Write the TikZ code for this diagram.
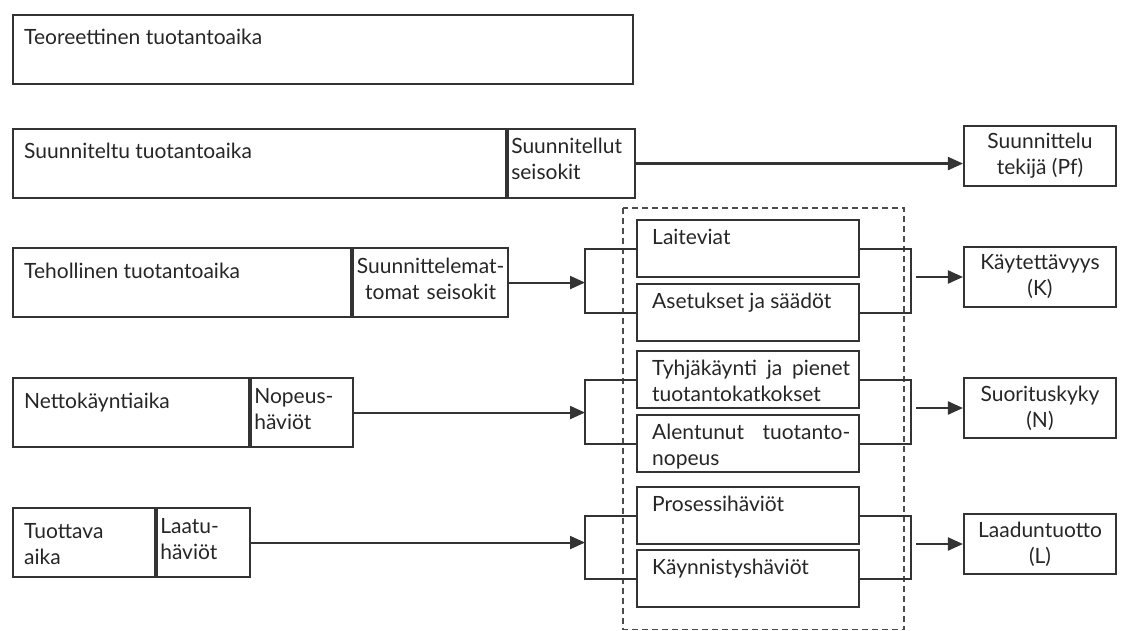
\documentclass[tikz,border=0pt]{standalone}
\usepackage{fontspec}
\setmainfont{Lato}
\usetikzlibrary{arrows.meta,positioning,calc}

\newcommand{\fs}{\fontsize{21}{26}\selectfont}
\newcommand{\jfill}{\hskip 0pt plus 1filll\relax}

\tikzset{
  ink/.style={draw=black!80, line width=2.1pt},
  cell/.style={ink, anchor=north west, inner sep=0pt, minimum height=69pt},
  sub/.style={ink, anchor=north west, inner sep=0pt, minimum width=222pt, minimum height=57pt},
  res/.style={ink, inner sep=0pt, minimum width=152pt, minimum height=60pt,
    align=center, font=\fs, text=black!85},
  lbl/.style={anchor=base west, inner sep=0pt, align=left, font=\fs, text=black!85},
  link/.style={ink},
  arr/.style={ink, -{Triangle[length=15pt,width=13pt]}},
  group/.style={draw=black!70, line width=1.2pt, dash pattern=on 6pt off 4pt},
}

\begin{document}
\begin{tikzpicture}[x=1pt,y=1pt]
  \useasboundingbox (0,0) rectangle (1121,-631);

  % time bars
  \node[cell, minimum width=620pt] (teo) at (12,-14) {};
  \node[lbl] (teoT) at ([shift={(12,-31)}]teo.north west) {Teoreettinen tuotantoaika};

  \node[cell, minimum width=493pt] (suu) at (12,-128) {};
  \node[cell, minimum width=127pt] (suuL) at (suu.north east) {};
  \node[lbl] (suuT) at ([shift={(12,-31)}]suu.north west) {Suunniteltu tuotantoaika};
  \node[lbl, text width=120pt] (suuLT) at ([shift={(4,-26)}]suuL.north west) {Suunnitellut\\seisokit};

  \node[cell, minimum width=338pt] (teh) at (12,-247) {};
  \node[cell, minimum width=155pt] (tehL) at (teh.north east) {};
  \node[lbl] (tehT) at ([shift={(12,-31)}]teh.north west) {Tehollinen tuotantoaika};
  \node[lbl, anchor=base, align=center, text width=152pt] (tehLT) at ([yshift=-26pt]tehL.north) {Suunnittelemat-\\tomat seisokit};

  \node[cell, minimum width=236pt] (net) at (12,-377) {};
  \node[cell, minimum width=102pt] (netL) at (net.north east) {};
  \node[lbl] (netT) at ([shift={(12,-31)}]net.north west) {Nettokäyntiaika};
  \node[lbl, text width=96pt] (netLT) at ([shift={(4,-26)}]netL.north west) {Nopeus-\\häviöt};

  \node[cell, minimum width=142pt] (tuo) at (12,-507) {};
  \node[cell, minimum width=93pt] (tuoL) at (tuo.north east) {};
  \node[lbl, text width=130pt] (tuoT) at ([shift={(12,-31)}]tuo.north west) {Tuottava\\aika};
  \node[lbl, text width=88pt] (tuoLT) at ([shift={(4,-26)}]tuoL.north west) {Laatu-\\häviöt};

  % loss causes
  \draw[group] (623,-208) rectangle (904,-629.5);

  \node[sub] (lai) at (636,-219) {};
  \node[sub] (ase) at (636,-283) {};
  \node[sub] (tyh) at (636,-350) {};
  \node[sub] (ale) at (636,-414) {};
  \node[sub] (pro) at (636,-486) {};
  \node[sub] (kaynn) at (636,-549) {};
  \node[lbl] (laiT) at ([shift={(16,-25)}]lai.north west) {Laiteviat};
  \node[lbl] (aseT) at ([shift={(16,-25)}]ase.north west) {Asetukset ja säädöt};
  \node[lbl, text width=198pt] (tyhT) at ([shift={(16,-25)}]tyh.north west) {Tyhjäkäynti\jfill{} ja\jfill{} pienet\\tuotantokatkokset};
  \node[lbl, text width=198pt] (aleT) at ([shift={(16,-25)}]ale.north west) {Alentunut\jfill{} tuotanto-\\nopeus};
  \node[lbl] (proT) at ([shift={(16,-25)}]pro.north west) {Prosessihäviöt};
  \node[lbl] (kaynnT) at ([shift={(16,-25)}]kaynn.north west) {Käynnistyshäviöt};

  % indicators
  \node[res] (pf) at (1040,-156) {Suunnittelu\\tekijä (Pf)};
  \node[res] (kay) at (1040,-277) {Käytettävyys\\(K)};
  \node[res] (suo) at (1040,-408) {Suorituskyky\\(N)};
  \node[res] (laa) at (1040,-544) {Laaduntuotto\\(L)};

  % brackets
  \coordinate (jL3) at (585,-281);
  \coordinate (jL4) at (585,-410);
  \coordinate (jL5) at (585,-542);
  \coordinate (jR3) at (911,-277);
  \coordinate (jR4) at (911,-408);
  \coordinate (jR5) at (911,-544);
  \draw[link] (lai.west) -| (jL3) |- (ase.west);
  \draw[link] (tyh.west) -| (jL4) |- (ale.west);
  \draw[link] (pro.west) -| (jL5) |- (kaynn.west);
  \draw[link] (lai.east) -| (jR3) |- (ase.east);
  \draw[link] (tyh.east) -| (jR4) |- (ale.east);
  \draw[link] (pro.east) -| (jR5) |- (kaynn.east);

  % arrows
  \draw[arr] (suuL.east) -- (suuL.east -| pf.west);
  \draw[arr] (tehL.east) -- (tehL.east -| jL3);
  \draw[arr] (netL.east) -- (netL.east -| jL4);
  \draw[arr] (tuoL.east) -- (tuoL.east -| jL5);
  \draw[arr] ([xshift=5pt]jR3) -- (kay.west);
  \draw[arr] ([xshift=5pt]jR4) -- (suo.west);
  \draw[arr] ([xshift=5pt]jR5) -- (laa.west);
\end{tikzpicture}
\end{document}
